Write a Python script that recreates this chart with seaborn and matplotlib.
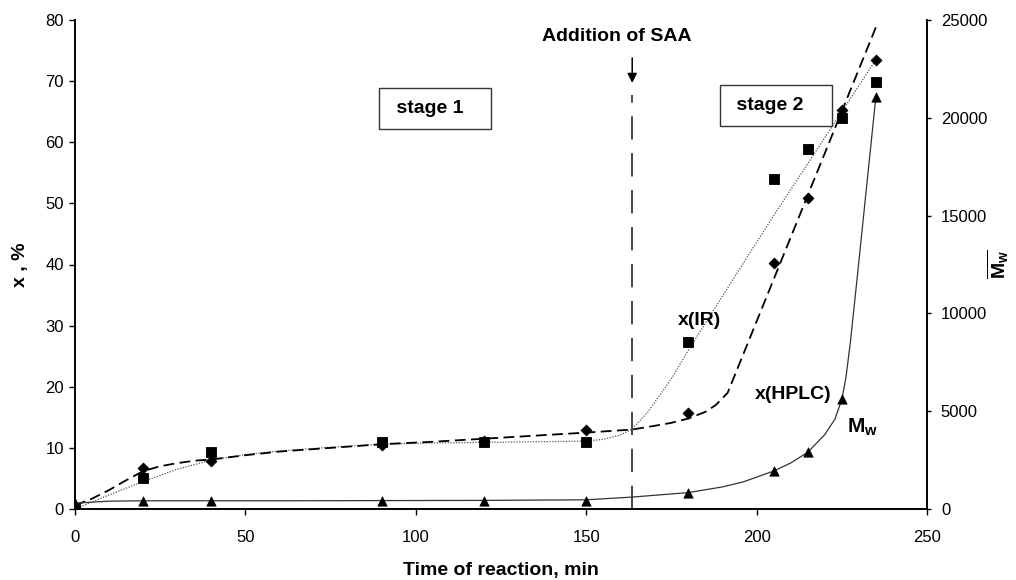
import matplotlib
matplotlib.use("Agg")
import matplotlib.pyplot as plt
import pandas as pd
import seaborn as sns

# ---------------- data ----------------
t_meas = [0, 20, 40, 90, 120, 150, 180, 205, 215, 225, 235]
x_ir = [0.0, 5.1, 9.3, 11.0, 11.0, 11.0, 27.3, 54.0, 58.9, 64.0, 69.8]
x_hplc = [0.4, 6.7, 7.8, 10.5, 11.2, 13.0, 15.7, 40.3, 50.8, 65.2, 73.5]
mw = [300, 400, 400, 420, 420, 430, 820, 1940, 2900, 5600, 21070]

# trend curves
fit_hplc_t = [0, 5, 10, 15, 20, 25, 30, 35, 40, 50, 60, 75, 90, 105, 120, 135,
              150, 163.5, 170, 175, 180, 185, 188, 191.5, 235.5]
fit_hplc_x = [0.6, 1.7, 3.1, 4.7, 6.2, 7.0, 7.5, 7.9, 8.1, 8.8, 9.4, 10.0, 10.6,
              11.0, 11.5, 12.0, 12.5, 13.0, 13.6, 14.1, 14.8, 15.9, 17.0, 19.0, 79.5]
fit_ir_t = [0, 10, 20, 30, 40, 50, 60, 75, 90, 105, 120, 135, 150, 155, 160,
            163.5, 168, 175, 180, 193, 205, 215, 225, 235]
fit_ir_x = [0.0, 2.3, 4.5, 6.5, 8.0, 8.9, 9.5, 10.1, 10.6, 10.8, 10.9, 11.0,
            11.1, 11.4, 12.1, 13.1, 15.8, 21.3, 26.0, 37.5, 48.0, 56.5, 65.0, 73.5]
fit_mw_t = [0, 10, 20, 40, 60, 90, 120, 150, 163.5, 170, 180, 190, 196, 205,
            210, 215, 220, 223, 225, 226.2, 227.5, 229.5, 235]
fit_mw = [300, 400, 420, 420, 420, 430, 440, 470, 610, 700, 840, 1130, 1380,
          1940, 2350, 2900, 3800, 4600, 5600, 6700, 8500, 11800, 21070]

t_saa = 163.5
x_ticks = [0, 50, 100, 150, 200, 250]
y_ticks = [0, 10, 20, 30, 40, 50, 60, 70, 80]
mw_ticks = [0, 5000, 10000, 15000, 20000, 25000]

# ---------------- style ----------------
sns.set_theme(style="ticks")
plt.rcParams["font.family"] = ["Liberation Sans", "DejaVu Sans"]
plt.rcParams["mathtext.fontset"] = "custom"
plt.rcParams["mathtext.rm"] = "Liberation Sans"
plt.rcParams["mathtext.bf"] = "Liberation Sans:bold"
plt.rcParams["mathtext.it"] = "Liberation Sans:italic"
plt.rcParams["text.color"] = "black"
plt.rcParams["axes.labelcolor"] = "black"
plt.rcParams["xtick.color"] = "black"
plt.rcParams["ytick.color"] = "black"

fig = plt.figure(figsize=(10.16, 5.8), dpi=100)
ax = fig.add_axes([75 / 1016, 1 - 509 / 580, (927 - 75) / 1016, (509 - 20) / 580])
ax2 = ax.twinx()

df_meas = pd.DataFrame({"t": t_meas, "ir": x_ir, "hplc": x_hplc, "mw": mw})
df_fh = pd.DataFrame({"t": fit_hplc_t, "x": fit_hplc_x})
df_fi = pd.DataFrame({"t": fit_ir_t, "x": fit_ir_x})
df_fm = pd.DataFrame({"t": fit_mw_t, "mw": fit_mw})

# curves
sns.lineplot(data=df_fi, x="t", y="x", ax=ax, sort=False, estimator=None,
             color="#555555", linewidth=0.9, linestyle=(0, (1, 1.2)))
sns.lineplot(data=df_fh, x="t", y="x", ax=ax, sort=False, estimator=None,
             color="black", linewidth=1.3, linestyle=(0, (6, 3)))
sns.lineplot(data=df_fm, x="t", y="mw", ax=ax2, sort=False, estimator=None,
             color="#333333", linewidth=0.9)

# markers
sns.scatterplot(data=df_meas, x="t", y="ir", ax=ax, marker="s", s=60,
                color="black", edgecolor="black", zorder=5)
sns.scatterplot(data=df_meas, x="t", y="hplc", ax=ax, marker="D", s=32,
                color="black", edgecolor="black", zorder=5)
sns.scatterplot(data=df_meas, x="t", y="mw", ax=ax2, marker="^", s=45,
                color="black", edgecolor="black", zorder=5)

# SAA vertical line and annotation
ax.plot([t_saa, t_saa], [0, 67.8], color="#444444", linewidth=1.4,
        linestyle=(0, (12, 7)))
ax.annotate("", xy=(t_saa, 69.7), xytext=(t_saa, 73.8),
            arrowprops=dict(arrowstyle="-|>", color="black", lw=1.1,
                            mutation_scale=14, shrinkA=0, shrinkB=0))
ax.text(t_saa - 4.6, 77.3, "Addition of SAA", ha="center", va="center",
        fontsize=14, fontweight="bold")

box = dict(boxstyle="square,pad=0.6", facecolor="white", edgecolor="#333333",
           linewidth=1.0)
ax.text(105.6, 65.5, " stage 1   ", ha="center", va="center", fontsize=14,
        fontweight="bold", bbox=box)
ax.text(205.6, 66.0, " stage 2   ", ha="center", va="center", fontsize=14,
        fontweight="bold", bbox=box)

ax.text(183.3, 30.9, "x(IR)", ha="center", va="center", fontsize=14,
        fontweight="bold")
ax.text(210.6, 18.8, "x(HPLC)", ha="center", va="center", fontsize=14,
        fontweight="bold")
ax.text(231.0, 13.3, r"$\mathbf{M}_{\mathbf{w}}$", ha="center", va="center",
        fontsize=15)

# axes
ax.set_xlim(0, 250)
ax.set_ylim(0, 80)
ax2.set_ylim(0, 25000)
ax.set_xticks(x_ticks)
ax.set_yticks(y_ticks)
ax2.set_yticks(mw_ticks)
ax.set_xticklabels([str(v) for v in x_ticks])
ax.set_yticklabels([str(v) for v in y_ticks])
ax2.set_yticklabels([str(v) for v in mw_ticks])

ax.set_xlabel("Time of reaction, min", fontsize=14, fontweight="bold", labelpad=12)
ax.set_ylabel("x , %", fontsize=14, fontweight="bold", labelpad=12)
ax2.set_ylabel(r"$\overline{\mathbf{M}_{\mathbf{w}}}$", fontsize=14,
               va="center", ha="center")
ax2.yaxis.set_label_coords(1.083, 0.5)

for a in (ax, ax2):
    a.spines["top"].set_visible(False)
    for s in a.spines.values():
        s.set_color("black")
        s.set_linewidth(1.2)
    a.tick_params(direction="out", length=4, width=1, colors="black",
                  labelsize=12, pad=4)
    a.grid(False)
ax.tick_params(axis="x", pad=11)
ax2.tick_params(axis="y", pad=7, length=3)
ax.patch.set_visible(False)

fig.savefig("out.png", dpi=100, facecolor="white")
